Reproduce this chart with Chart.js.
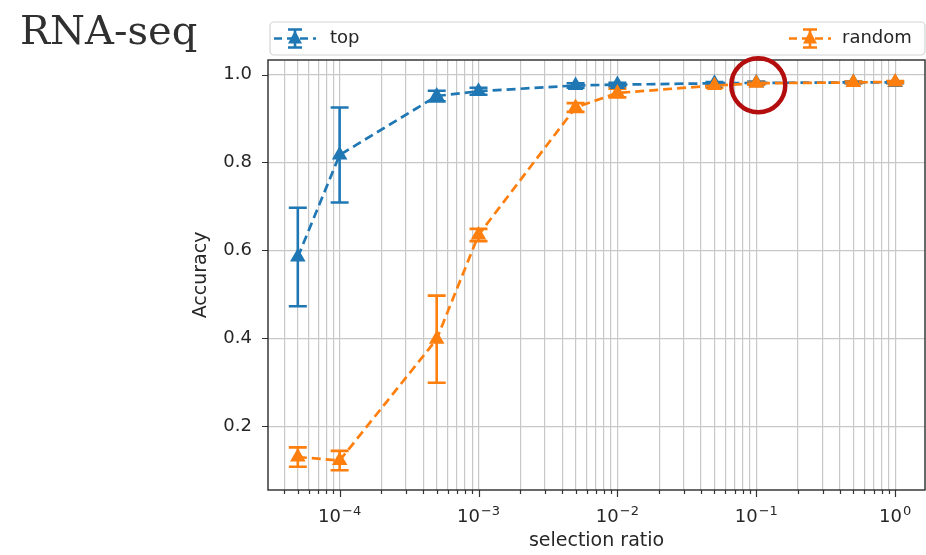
<!DOCTYPE html>
<html>
<head>
<meta charset="utf-8">
<script src="https://cdn.jsdelivr.net/npm/chart.js@4.4.1/dist/chart.umd.min.js"></script>
<style>
  html, body { margin: 0; padding: 0; background: #fff; }
  #wrap { position: relative; width: 926px; height: 555px; }
  #title {
    position: absolute; left: 20px; top: 7px;
    font-family: 'DejaVu Serif', serif; font-size: 40px; color: #303030;
  }
  canvas { position: absolute; left: 0; top: 0; }
</style>
</head>
<body>
<div id="wrap">
  <canvas id="accChart" width="926" height="555"></canvas>
  <div id="title">RNA-seq</div>
</div>
<script>
// selection ratio vs accuracy, mean and std over runs
const ratios = [5e-5, 1e-4, 5e-4, 1e-3, 5e-3, 1e-2, 5e-2, 1e-1, 5e-1, 1];
const topAcc = [0.585, 0.817, 0.951, 0.962, 0.975, 0.977, 0.980, 0.981, 0.982, 0.982];
const topErr = [0.112, 0.108, 0.012, 0.008, 0.005, 0.004, 0.003, 0.003, 0.002, 0.002];
const randomAcc = [0.130, 0.122, 0.398, 0.635, 0.925, 0.958, 0.975, 0.980, 0.982, 0.983];
const randomErr = [0.022, 0.022, 0.099, 0.014, 0.010, 0.010, 0.005, 0.003, 0.002, 0.002];
const seriesNames = ['top', 'random'];
const yTicks = [0.2, 0.4, 0.6, 0.8, 1.0];
const highlightIndex = 7; // ratio 1e-1 on the random curve

const BLUE = '#1f77b4';
const ORANGE = '#ff7f0e';
const TEXT = '#262626';
const FONT = "'DejaVu Sans', sans-serif";

function isPow10(v) {
  const l = Math.log10(v);
  return Math.abs(l - Math.round(l)) < 1e-9;
}

function toPoints(ys) {
  return ratios.map((x, i) => ({ x: x, y: ys[i] }));
}

// every 1..9 x 10^k inside the axis range, so minor grid lines show up
function logTicks(min, max) {
  const out = [];
  for (let e = Math.floor(Math.log10(min)); e <= Math.ceil(Math.log10(max)); e++) {
    for (let m = 1; m <= 9; m++) {
      const v = m * Math.pow(10, e);
      if (v >= min && v <= max) out.push({ value: v, major: m === 1 });
    }
  }
  return out;
}

const errorBars = {
  id: 'errorBars',
  beforeDatasetsDraw(chart) {
    const { ctx, scales: { x, y } } = chart;
    const sets = [[topAcc, topErr, BLUE], [randomAcc, randomErr, ORANGE]];
    ctx.save();
    ctx.lineWidth = 2.6;
    sets.forEach(([vals, errs, color]) => {
      ctx.strokeStyle = color;
      ratios.forEach((r, i) => {
        const px = x.getPixelForValue(r);
        const y0 = y.getPixelForValue(vals[i] - errs[i]);
        const y1 = y.getPixelForValue(vals[i] + errs[i]);
        ctx.beginPath();
        ctx.moveTo(px, y0); ctx.lineTo(px, y1);
        ctx.moveTo(px - 9, y0); ctx.lineTo(px + 9, y0);
        ctx.moveTo(px - 9, y1); ctx.lineTo(px + 9, y1);
        ctx.stroke();
      });
    });
    ctx.restore();
  }
};

function legendSymbol(ctx, cx, cy, color) {
  ctx.save();
  ctx.strokeStyle = color;
  ctx.fillStyle = color;
  ctx.lineWidth = 2.6;
  ctx.setLineDash([8, 5]);
  ctx.beginPath();
  ctx.moveTo(cx - 21, cy); ctx.lineTo(cx + 21, cy);
  ctx.stroke();
  ctx.setLineDash([]);
  ctx.beginPath();
  ctx.moveTo(cx, cy - 9); ctx.lineTo(cx, cy + 9);
  ctx.moveTo(cx - 7, cy - 9); ctx.lineTo(cx + 7, cy - 9);
  ctx.moveTo(cx - 7, cy + 9); ctx.lineTo(cx + 7, cy + 9);
  ctx.stroke();
  ctx.beginPath();
  ctx.moveTo(cx, cy - 8); ctx.lineTo(cx + 7, cy + 5); ctx.lineTo(cx - 7, cy + 5);
  ctx.closePath();
  ctx.fill();
  ctx.restore();
}

const frameAndLegend = {
  id: 'frameAndLegend',
  afterDraw(chart) {
    const { ctx, chartArea: a, scales: { x, y } } = chart;
    ctx.save();
    // tick marks, longer for decades
    ctx.strokeStyle = '#333';
    ctx.lineWidth = 1.2;
    ctx.beginPath();
    x.ticks.forEach(t => {
      const px = Math.round(x.getPixelForValue(t.value)) + 0.5;
      const len = isPow10(t.value) ? 7 : 4;
      ctx.moveTo(px, a.bottom); ctx.lineTo(px, a.bottom + len);
    });
    y.ticks.forEach(t => {
      const py = Math.round(y.getPixelForValue(t.value)) + 0.5;
      ctx.moveTo(a.left, py); ctx.lineTo(a.left - 6, py);
    });
    ctx.stroke();
    // axes frame
    ctx.strokeStyle = '#2a2a2a';
    ctx.lineWidth = 1.4;
    ctx.strokeRect(a.left, a.top, a.right - a.left, a.bottom - a.top);

    // decade labels as 10 with a raised exponent
    ctx.fillStyle = TEXT;
    ctx.textBaseline = 'alphabetic';
    ctx.textAlign = 'left';
    x.ticks.filter(t => isPow10(t.value)).forEach(t => {
      const exp = String(Math.round(Math.log10(t.value))).replace('-', '\u2212');
      ctx.font = '18px ' + FONT;
      const wBase = ctx.measureText('10').width;
      ctx.font = '13px ' + FONT;
      const wExp = ctx.measureText(exp).width;
      const left = x.getPixelForValue(t.value) - (wBase + wExp + 1) / 2;
      ctx.font = '18px ' + FONT;
      ctx.fillText('10', left, a.bottom + 32);
      ctx.font = '13px ' + FONT;
      ctx.fillText(exp, left + wBase + 1, a.bottom + 25);
    });

    // expanded legend across the top
    const lx = 270, ly = 22, lw = 655, lh = 33;
    ctx.fillStyle = '#fff';
    ctx.strokeStyle = '#d4d4d4';
    ctx.lineWidth = 1.2;
    ctx.beginPath();
    ctx.roundRect(lx, ly, lw, lh, 4);
    ctx.fill();
    ctx.stroke();
    const cy = ly + lh / 2;
    ctx.font = '18px ' + FONT;
    ctx.fillStyle = TEXT;
    ctx.textBaseline = 'middle';
    legendSymbol(ctx, 295, cy, BLUE);
    ctx.fillText(seriesNames[0], 330, cy);
    legendSymbol(ctx, 810, cy, ORANGE);
    ctx.fillText(seriesNames[1], 842, cy);

    // highlight ring
    const hx = x.getPixelForValue(ratios[highlightIndex]);
    const hy = y.getPixelForValue(randomAcc[highlightIndex]);
    ctx.strokeStyle = '#b30d0d';
    ctx.lineWidth = 4.5;
    ctx.beginPath();
    ctx.ellipse(hx + 2, hy + 2, 27, 27, 0, 0, Math.PI * 2);
    ctx.stroke();
    ctx.restore();
  }
};

const ctx = document.getElementById('accChart').getContext('2d');
new Chart(ctx, {
  type: 'line',
  data: {
    datasets: [
      {
        label: seriesNames[0],
        data: toPoints(topAcc),
        borderColor: BLUE,
        backgroundColor: BLUE,
        borderWidth: 2.7,
        borderDash: [9, 5],
        pointStyle: 'triangle',
        pointRadius: 9,
        pointBorderWidth: 0,
        order: 1
      },
      {
        label: seriesNames[1],
        data: toPoints(randomAcc),
        borderColor: ORANGE,
        backgroundColor: ORANGE,
        borderWidth: 2.7,
        borderDash: [9, 5],
        pointStyle: 'triangle',
        pointRadius: 9,
        pointBorderWidth: 0,
        order: 0
      }
    ]
  },
  options: {
    responsive: false,
    animation: false,
    layout: { autoPadding: false, padding: { top: 60, left: 190, right: 1, bottom: 3 } },
    plugins: {
      legend: { display: false },
      tooltip: { enabled: false }
    },
    scales: {
      x: {
        type: 'logarithmic',
        min: 3.05e-5,
        max: 1.64,
        afterBuildTicks: s => { s.ticks = logTicks(s.min, s.max); },
        afterFit: s => { s.height = 62; s.paddingLeft = 0; s.paddingRight = 0; },
        grid: { color: '#c8c8c8', lineWidth: 1.2, drawTicks: false },
        border: { display: false },
        ticks: { display: false },
        title: {
          display: true,
          text: 'selection ratio',
          color: TEXT,
          font: { family: FONT, size: 19 },
          padding: { top: 0, bottom: 0 }
        }
      },
      y: {
        min: 0.055,
        max: 1.033,
        afterBuildTicks: s => { s.ticks = yTicks.map(v => ({ value: v })); },
        afterFit: s => { s.width = 78; s.paddingTop = 0; s.paddingBottom = 0; },
        grid: { color: '#c8c8c8', lineWidth: 1.2, drawTicks: false },
        border: { display: false },
        ticks: {
          padding: 16,
          color: TEXT,
          font: { family: FONT, size: 18 },
          callback: v => v.toFixed(1)
        },
        title: {
          display: true,
          text: 'Accuracy',
          color: TEXT,
          font: { family: FONT, size: 19 },
          padding: { top: 0, bottom: 2 }
        }
      }
    }
  },
  plugins: [errorBars, frameAndLegend]
});
</script>
</body>
</html>
